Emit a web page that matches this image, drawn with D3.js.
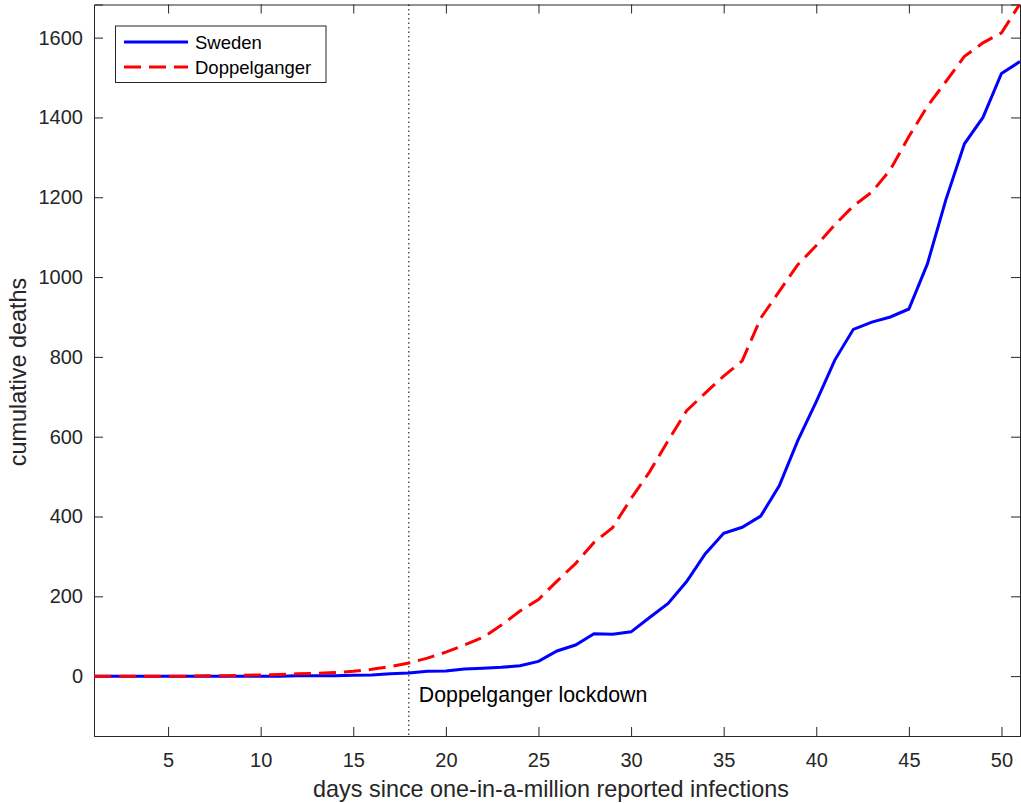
<!DOCTYPE html>
<html>
<head>
<meta charset="utf-8">
<script src="https://cdn.jsdelivr.net/npm/d3@7"></script>
<style>
  body { margin: 0; background: #fff; }
  svg { font-family: "Liberation Sans", Arial, sans-serif; }
</style>
</head>
<body>
<div id="chart"></div>
<script>

var days = d3.range(1, 52);

var sweden = [0, 0, 0, 0, 0, 0, 0, 0, 0, 0,
  0, 1, 1, 1, 2, 3, 6, 8, 12, 13,
  18, 20, 22, 26, 37, 63, 78, 106, 105, 111,
  147, 182, 237, 306, 358, 373, 401, 477, 590, 688,
  792, 869, 887, 900, 920, 1033, 1194, 1334, 1400, 1510,
  1540];

var doppelganger = [0, 0, 0, 0, 0, 0, 1, 1, 2, 3,
  4, 6, 7, 9, 12, 17, 24, 33, 45, 60,
  78, 97, 128, 163, 192, 238, 282, 335, 372, 445,
  512, 590, 665, 709, 752, 790, 897, 964, 1031, 1079,
  1131, 1178, 1213, 1269, 1352, 1428, 1490, 1553, 1587, 1612,
  1685];

var xTicks = [5, 10, 15, 20, 25, 30, 35, 40, 45, 50];
var yTicks = [0, 200, 400, 600, 800, 1000, 1200, 1400, 1600];
var lockdownDay = 18;
var seriesNames = ["Sweden", "Doppelganger"];

var width = 1021, height = 803;
// plot box edges (note: "top" is reserved on window, so prefix these)
var pLeft = 94, pRight = 1020, pTop = 4.5, pBottom = 736;
var axisColor = "#262626";

var svg = d3.select("#chart").append("svg")
  .attr("width", width)
  .attr("height", height);

var x = d3.scaleLinear().domain([1, 51]).range([pLeft, pRight]);
var y = d3.scaleLinear().domain([-150, 1683]).range([pBottom, pTop]);

svg.append("clipPath").attr("id", "plot")
  .append("rect")
  .attr("x", pLeft).attr("y", pTop)
  .attr("width", pRight - pLeft).attr("height", pBottom - pTop);

// axes, ticks pointing inward on all four sides
var tickLen = 9;
var gx = svg.append("g").attr("transform", "translate(0," + pBottom + ")")
  .call(d3.axisBottom(x).tickValues(xTicks).tickSize(-tickLen).tickPadding(15));
var gxt = svg.append("g").attr("transform", "translate(0," + pTop + ")")
  .call(d3.axisTop(x).tickValues(xTicks).tickSize(-tickLen).tickFormat(""));
var gy = svg.append("g").attr("transform", "translate(" + pLeft + ",0)")
  .call(d3.axisLeft(y).tickValues(yTicks).tickSize(-tickLen).tickPadding(11)
    .tickFormat(d3.format("d")));
var gyr = svg.append("g").attr("transform", "translate(" + pRight + ",0)")
  .call(d3.axisRight(y).tickValues(yTicks).tickSize(-tickLen).tickFormat(""));

[gx, gxt, gy, gyr].forEach(function(g) {
  g.select(".domain").attr("stroke", axisColor).attr("stroke-width", 1);
  g.selectAll(".tick line").attr("stroke", axisColor);
  g.selectAll(".tick text").attr("fill", axisColor)
    .style("font-size", "20px").style("font-family", "Liberation Sans, Arial, sans-serif");
});
gx.selectAll(".tick text").attr("dy", "0.8em");

// lockdown marker
svg.append("line")
  .attr("x1", x(lockdownDay)).attr("x2", x(lockdownDay))
  .attr("y1", pTop).attr("y2", pBottom)
  .attr("stroke", "#000").attr("stroke-width", 1)
  .attr("stroke-dasharray", "1.5,3");

svg.append("text")
  .attr("x", x(lockdownDay) + 10).attr("y", y(-66))
  .style("font-size", "21.3px")
  .attr("fill", "#000")
  .text("Doppelganger lockdown");

var line = d3.line()
  .x(function(d, i) { return x(days[i]); })
  .y(function(d) { return y(d); });

var plot = svg.append("g").attr("clip-path", "url(#plot)");

plot.append("path").datum(sweden)
  .attr("d", line)
  .attr("fill", "none")
  .attr("stroke", "#0000ff")
  .attr("stroke-width", 3);

plot.append("path").datum(doppelganger)
  .attr("d", line)
  .attr("fill", "none")
  .attr("stroke", "#ff0000")
  .attr("stroke-width", 3)
  .attr("stroke-dasharray", "17,8");

// axis labels
svg.append("text")
  .attr("x", 551).attr("y", 797)
  .attr("text-anchor", "middle")
  .style("font-size", "23.4px")
  .attr("fill", axisColor)
  .text("days since one-in-a-million reported infections");

svg.append("text")
  .attr("transform", "translate(25.5,372) rotate(-90)")
  .attr("text-anchor", "middle")
  .style("font-size", "23.4px")
  .attr("fill", axisColor)
  .text("cumulative deaths");

// legend
var legend = svg.append("g");
legend.append("rect")
  .attr("x", 115.5).attr("y", 26).attr("width", 210.5).attr("height", 56.5)
  .attr("fill", "#fff").attr("stroke", axisColor).attr("stroke-width", 1);

var legendStyles = [
  { color: "#0000ff", dash: null },
  { color: "#ff0000", dash: "17,8" }
];
seriesNames.forEach(function(name, i) {
  var ly = 42 + i * 25;
  legend.append("line")
    .attr("x1", 124).attr("x2", 188)
    .attr("y1", ly).attr("y2", ly)
    .attr("stroke", legendStyles[i].color)
    .attr("stroke-width", 3)
    .attr("stroke-dasharray", legendStyles[i].dash);
  legend.append("text")
    .attr("x", 195).attr("y", ly + 6.5)
    .style("font-size", "18.5px")
    .attr("fill", "#000")
    .text(name);
});

</script>
</body>
</html>
